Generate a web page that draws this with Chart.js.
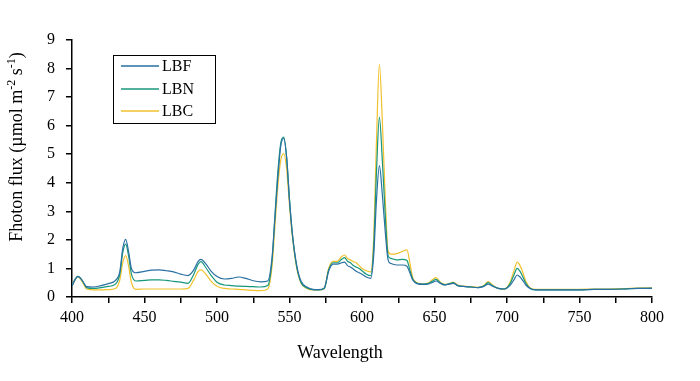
<!DOCTYPE html>
<html>
<head>
<meta charset="utf-8">
<script src="https://cdn.jsdelivr.net/npm/chart.js@4"></script>
<style>
  html, body { margin: 0; padding: 0; background: #fff; }
  #wrap { width: 700px; height: 381px; }
</style>
</head>
<body>
<div id="wrap"><canvas id="spectrumChart" width="700" height="381"></canvas></div>
<script>
// wavelength (nm)
const wavelengths = [
  400, 402, 404, 406, 408, 410, 415, 420, 425, 430,
  433, 435, 437, 439, 441, 444, 450, 455, 460, 465,
  470, 475, 480, 484, 487, 489, 492, 496, 500, 505,
  510, 515, 520, 525, 530, 535, 538, 540, 542, 544,
  546, 548, 550, 552, 555, 558, 562, 566, 570, 574,
  577, 580, 583, 586, 588, 590, 592, 594, 596, 598,
  600, 603, 606, 608, 610, 612, 614, 616, 618, 620,
  624, 628, 631, 633, 635, 638, 642, 646, 649, 651,
  654, 657, 660, 663, 666, 670, 675, 680, 684, 687,
  690, 694, 698, 702, 705, 707, 709, 711, 713, 716,
  720, 730, 740, 750, 760, 770, 780, 790, 800
];

const lbf = [
  0.38, 0.6, 0.72, 0.65, 0.5, 0.36, 0.35, 0.4, 0.47, 0.58,
  0.9, 1.7, 2.02, 1.6, 1.0, 0.85, 0.9, 0.94, 0.95, 0.92,
  0.88, 0.8, 0.75, 0.95, 1.25, 1.32, 1.18, 0.9, 0.72, 0.63,
  0.65, 0.7, 0.65, 0.57, 0.53, 0.56, 1.4, 2.8, 4.2, 5.3,
  5.55, 4.9, 3.4, 2.2, 1.1, 0.55, 0.35, 0.27, 0.26, 0.32,
  0.9, 1.15, 1.15, 1.2, 1.22, 1.1, 1.05, 0.98, 0.9, 0.85,
  0.8, 0.7, 0.65, 1.4, 3.4, 4.6, 3.6, 2.3, 1.3, 1.17,
  1.12, 1.12, 1.08, 0.85, 0.6, 0.47, 0.44, 0.46, 0.52, 0.56,
  0.48, 0.42, 0.45, 0.48, 0.4, 0.37, 0.35, 0.33, 0.37, 0.45,
  0.38, 0.3, 0.28, 0.4, 0.62, 0.77, 0.7, 0.57, 0.42, 0.3,
  0.25, 0.25, 0.25, 0.25, 0.27, 0.27, 0.28, 0.3, 0.3
];

const lbn = [
  0.38, 0.6, 0.72, 0.65, 0.5, 0.33, 0.3, 0.33, 0.37, 0.45,
  0.8, 1.55, 1.85, 1.45, 0.8, 0.56, 0.58, 0.6, 0.6, 0.58,
  0.55, 0.52, 0.48, 0.8, 1.15, 1.24, 1.05, 0.75, 0.52, 0.42,
  0.4, 0.38, 0.37, 0.36, 0.35, 0.4, 1.3, 2.9, 4.4, 5.4,
  5.6, 4.9, 3.4, 2.2, 1.05, 0.5, 0.32, 0.26, 0.25, 0.3,
  0.95, 1.2, 1.2, 1.32, 1.38, 1.25, 1.2, 1.1, 1.05, 1.0,
  0.92, 0.8, 0.75, 1.7, 4.4, 6.3, 4.8, 2.9, 1.45, 1.35,
  1.3, 1.32, 1.28, 0.95, 0.62, 0.48, 0.45, 0.48, 0.57, 0.62,
  0.5, 0.43, 0.46, 0.5, 0.4, 0.37, 0.35, 0.33, 0.38, 0.5,
  0.4, 0.3, 0.28, 0.45, 0.8, 1.0, 0.9, 0.7, 0.48, 0.3,
  0.25, 0.25, 0.25, 0.25, 0.27, 0.27, 0.28, 0.3, 0.31
];

const lbc = [
  0.38, 0.6, 0.7, 0.62, 0.45, 0.28, 0.25, 0.25, 0.26, 0.3,
  0.6, 1.2, 1.45, 1.1, 0.5, 0.27, 0.28, 0.28, 0.28, 0.28,
  0.28, 0.28, 0.3, 0.6, 0.9, 0.95, 0.82, 0.55, 0.38, 0.3,
  0.28, 0.27, 0.25, 0.23, 0.22, 0.28, 1.1, 2.5, 3.9, 4.8,
  5.02, 4.5, 3.2, 2.1, 1.0, 0.48, 0.3, 0.25, 0.25, 0.3,
  1.0, 1.25, 1.25, 1.42, 1.47, 1.35, 1.3, 1.24, 1.2, 1.1,
  1.0, 0.92, 0.88, 2.0, 5.5, 8.15, 6.2, 3.5, 1.6, 1.5,
  1.52, 1.6, 1.65, 1.2, 0.68, 0.5, 0.46, 0.5, 0.62, 0.68,
  0.52, 0.44, 0.47, 0.52, 0.42, 0.38, 0.36, 0.34, 0.4, 0.54,
  0.42, 0.3, 0.28, 0.5, 0.95, 1.22, 1.1, 0.85, 0.55, 0.32,
  0.27, 0.27, 0.27, 0.27, 0.28, 0.28, 0.29, 0.31, 0.32
];

const seriesNames = ['LBF', 'LBN', 'LBC'];
const seriesColors = ['#2a70a2', '#17977c', '#f2c12e'];

const FONT = "'Liberation Serif', 'Times New Roman', serif";

function toPoints(values) {
  return wavelengths.map((w, i) => ({ x: w, y: values[i] }));
}

// legend box + axis titles drawn on the canvas
const decorPlugin = {
  id: 'decor',
  afterDraw(chart) {
    const ctx = chart.ctx;
    ctx.save();

    // legend
    ctx.strokeStyle = '#000';
    ctx.lineWidth = 1;
    ctx.strokeRect(113.5, 55.5, 102, 68);
    ctx.font = '16px ' + FONT;
    ctx.textBaseline = 'middle';
    ctx.textAlign = 'left';
    const rows = [66, 89, 111];
    chart.data.datasets.forEach((ds, i) => {
      ctx.strokeStyle = ds.borderColor;
      ctx.lineWidth = 1.3;
      ctx.beginPath();
      ctx.moveTo(121, rows[i]);
      ctx.lineTo(159, rows[i]);
      ctx.stroke();
      ctx.fillStyle = '#000';
      ctx.fillText(ds.label, 162, rows[i] + 1);
    });

    // x title
    ctx.font = '18px ' + FONT;
    ctx.textAlign = 'center';
    ctx.fillText('Wavelength', 340, 353);

    // y title with superscripts
    const parts = [
      { t: 'Fhoton flux (\u00b5mol m', sup: false },
      { t: '-2', sup: true },
      { t: ' s', sup: false },
      { t: '-1', sup: true },
      { t: ')', sup: false }
    ];
    const fontFor = p => (p.sup ? '12px ' : '18px ') + FONT;
    let total = 0;
    parts.forEach(p => { ctx.font = fontFor(p); p.w = ctx.measureText(p.t).width; total += p.w; });
    ctx.translate(17, 147);
    ctx.rotate(-Math.PI / 2);
    ctx.textAlign = 'left';
    let x = -total / 2;
    parts.forEach(p => {
      ctx.font = fontFor(p);
      ctx.fillText(p.t, x, p.sup ? -5 : 0);
      x += p.w;
    });
    ctx.restore();
  }
};

function createSpectrumChart() {
  const ctx = document.getElementById('spectrumChart').getContext('2d');
  new Chart(ctx, {
    type: 'line',
    data: {
      datasets: seriesNames.map((name, i) => ({
        label: name,
        data: toPoints([lbf, lbn, lbc][i]),
        borderColor: seriesColors[i],
        backgroundColor: seriesColors[i],
        borderWidth: 1.2,
        pointRadius: 0,
        cubicInterpolationMode: 'monotone',
        fill: false
      }))
    },
    options: {
      responsive: false,
      animation: false,
      layout: { padding: { top: 40, right: 48, left: 0, bottom: 0 } },
      plugins: {
        legend: { display: false },
        tooltip: { enabled: false }
      },
      scales: {
        x: {
          type: 'linear',
          min: 400,
          max: 800,
          afterFit: s => { s.height = 84; },
          border: { color: '#000', width: 1.5 },
          grid: { drawOnChartArea: false, drawTicks: true, tickLength: 6, color: '#000', tickColor: '#000', lineWidth: 1.5 },
          ticks: {
            stepSize: 25,
            autoSkip: false,
            maxRotation: 0,
            padding: 5,
            color: '#000',
            font: { family: FONT, size: 16 },
            callback: v => (v % 50 === 0 ? v : '')
          }
        },
        y: {
          min: 0,
          max: 9,
          afterFit: s => { s.width = 72; },
          border: { color: '#000', width: 1.5 },
          grid: { drawOnChartArea: false, drawTicks: true, tickLength: 6, color: '#000', tickColor: '#000', lineWidth: 1.5 },
          ticks: {
            stepSize: 1,
            padding: 11,
            color: '#000',
            font: { family: FONT, size: 16 }
          }
        }
      }
    },
    plugins: [decorPlugin]
  });
}

window.onload = function() {
  createSpectrumChart();
};
</script>
</body>
</html>
